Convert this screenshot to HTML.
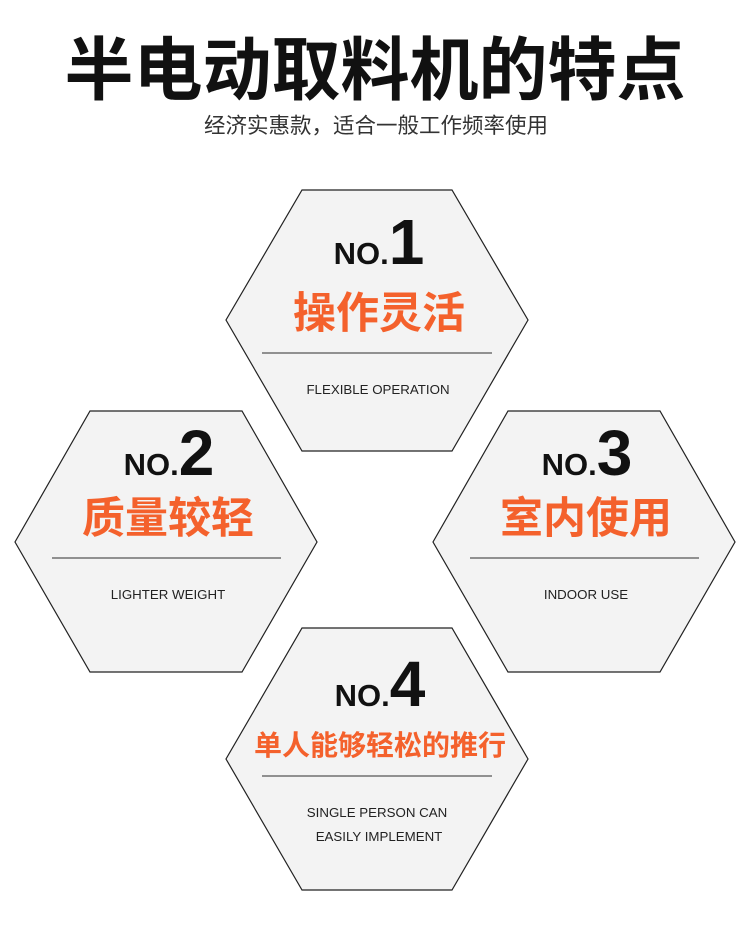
<!DOCTYPE html>
<html><head><meta charset="utf-8"><style>
html,body{margin:0;padding:0;background:#fff;}
svg{display:block;}
.t{font-family:"Liberation Sans","Noto Sans CJK SC",sans-serif;}
</style></head><body>
<svg width="750" height="929" viewBox="0 0 750 929" xmlns="http://www.w3.org/2000/svg" class="t">
<rect width="750" height="929" fill="#fff"/>
<text x="375" y="94" text-anchor="middle" font-size="69" font-weight="bold" fill="#111" font-family="'Noto Sans CJK SC',sans-serif">半电动取料机的特点</text>
<text x="376" y="133" text-anchor="middle" font-size="21.5" fill="#333" font-family="'Noto Sans CJK SC',sans-serif">经济实惠款，适合一般工作频率使用</text>
<g fill="#f3f3f3" stroke="#222" stroke-width="1.2">
<polygon points="302,190 452,190 528,320 452,451 302,451 226,320"/>
<polygon points="90,411 242,411 317,542 242,672 90,672 15,542"/>
<polygon points="508,411 660,411 735,542 660,672 508,672 433,542"/>
<polygon points="302,628 452,628 528,759 452,890 302,890 226,759"/>
</g>
<g stroke="#555" stroke-width="1.2">
<line x1="262" y1="353" x2="492" y2="353"/>
<line x1="52" y1="558" x2="281" y2="558"/>
<line x1="470" y1="558" x2="699" y2="558"/>
<line x1="262" y1="776" x2="492" y2="776"/>
</g>
<g font-weight="bold" fill="#111" text-anchor="middle">
<text x="379" y="264"><tspan font-size="31">NO.</tspan><tspan font-size="64">1</tspan></text>
<text x="169" y="475"><tspan font-size="31">NO.</tspan><tspan font-size="64">2</tspan></text>
<text x="587" y="475"><tspan font-size="31">NO.</tspan><tspan font-size="64">3</tspan></text>
<text x="380" y="706"><tspan font-size="31">NO.</tspan><tspan font-size="64">4</tspan></text>
</g>
<g font-weight="bold" fill="#f4612c" text-anchor="middle" font-family="'Noto Sans CJK SC',sans-serif">
<text x="379" y="328" font-size="43">操作灵活</text>
<text x="168" y="533" font-size="43">质量较轻</text>
<text x="586" y="533" font-size="43">室内使用</text>
<text x="380" y="755" font-size="28">单人能够轻松的推行</text>
</g>
<g font-size="13.3" fill="#222" text-anchor="middle">
<text x="378" y="394">FLEXIBLE OPERATION</text>
<text x="168" y="599">LIGHTER WEIGHT</text>
<text x="586" y="599">INDOOR USE</text>
<text x="377" y="817">SINGLE PERSON CAN</text>
<text x="379" y="841">EASILY IMPLEMENT</text>
</g>
</svg>
</body></html>
